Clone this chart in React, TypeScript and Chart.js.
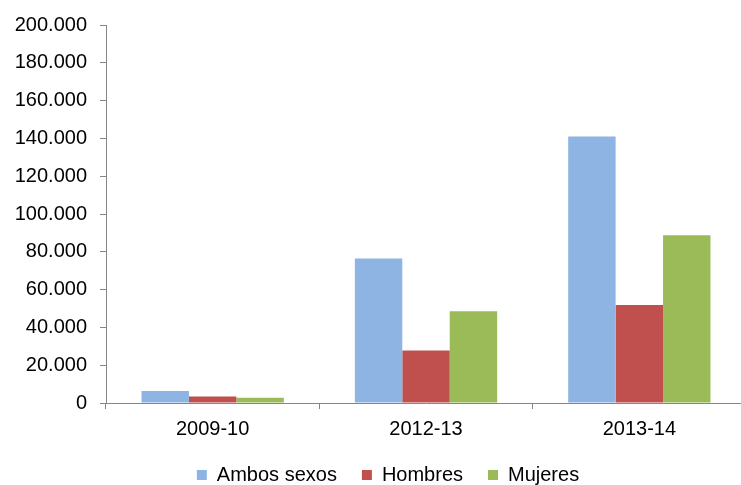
import React, { useEffect, useRef } from "react";
import { Chart, registerables } from "chart.js";

Chart.register(...registerables);

const categories = ["2009-10", "2012-13", "2013-14"];
const seriesNames = ["Ambos sexos", "Hombres", "Mujeres"];
const ambosSexos = [6300, 76500, 141000];
const hombres = [3500, 27800, 51900];
const mujeres = [2800, 48500, 88800];
const seriesColors = ["#8EB4E3", "#C0504D", "#9BBB59"];
const yMin = 0;
const yMax = 200000;
const yStep = 20000;

const FONT = '"Liberation Sans", Arial, sans-serif';

function formatThousands(v: number): string {
  return String(Math.round(v)).replace(/\B(?=(\d{3})+(?!\d))/g, ".");
}

const legendShift = {
  id: "legendShift",
  afterLayout(chart: any) {
    if (chart.legend) {
      chart.legend.left += 15;
      chart.legend.right += 15;
    }
  },
};

export default function App() {
  const canvasRef = useRef<HTMLCanvasElement | null>(null);

  useEffect(() => {
    const canvas = canvasRef.current;
    if (!canvas) return;
    const values = [ambosSexos, hombres, mujeres];
    const chart = new Chart(canvas, {
      type: "bar",
      data: {
        labels: categories,
        datasets: seriesNames.map((name, i) => ({
          label: name,
          data: values[i],
          backgroundColor: seriesColors[i],
          borderWidth: 0,
          categoryPercentage: 0.667,
          barPercentage: 1.0,
        })),
      },
      plugins: [legendShift],
      options: {
        responsive: false,
        maintainAspectRatio: false,
        animation: false,
        devicePixelRatio: 1,
        layout: { padding: { left: 0, right: 24, top: 24, bottom: 0 } },
        plugins: {
          tooltip: { enabled: false },
          legend: {
            position: "bottom",
            labels: {
              boxWidth: 10,
              boxHeight: 10,
              padding: 25,
              color: "#000",
              font: { family: FONT, size: 20 },
            },
          },
        },
        scales: {
          x: {
            afterFit: (scale: any) => {
              scale.height = 37;
            },
            grid: {
              display: true,
              offset: true,
              drawOnChartArea: false,
              drawTicks: true,
              tickLength: 6,
              color: "#868686",
              lineWidth: 1,
            },
            border: { display: true, color: "#868686", width: 1 },
            ticks: {
              color: "#000",
              font: { family: FONT, size: 20 },
              padding: 8,
              maxRotation: 0,
              autoSkip: false,
            },
          },
          y: {
            min: yMin,
            max: yMax,
            afterFit: (scale: any) => {
              scale.width = 106;
            },
            grid: {
              display: true,
              drawOnChartArea: false,
              drawTicks: true,
              tickLength: 6,
              color: "#868686",
              lineWidth: 1,
            },
            border: { display: true, color: "#868686", width: 1 },
            ticks: {
              stepSize: yStep,
              color: "#000",
              font: { family: FONT, size: 20 },
              padding: 13,
              autoSkip: false,
              callback: (v: any) => formatThousands(Number(v)),
            },
          },
        },
      },
    });
    return () => chart.destroy();
  }, []);

  return (
    <div
      style={{
        position: "fixed",
        left: 0,
        top: 0,
        width: 741,
        height: 485,
        overflow: "hidden",
        background: "#fff",
      }}
    >
      <canvas
        ref={canvasRef}
        width={770}
        height={495}
        style={{ width: 770, height: 495, display: "block" }}
      />
    </div>
  );
}
